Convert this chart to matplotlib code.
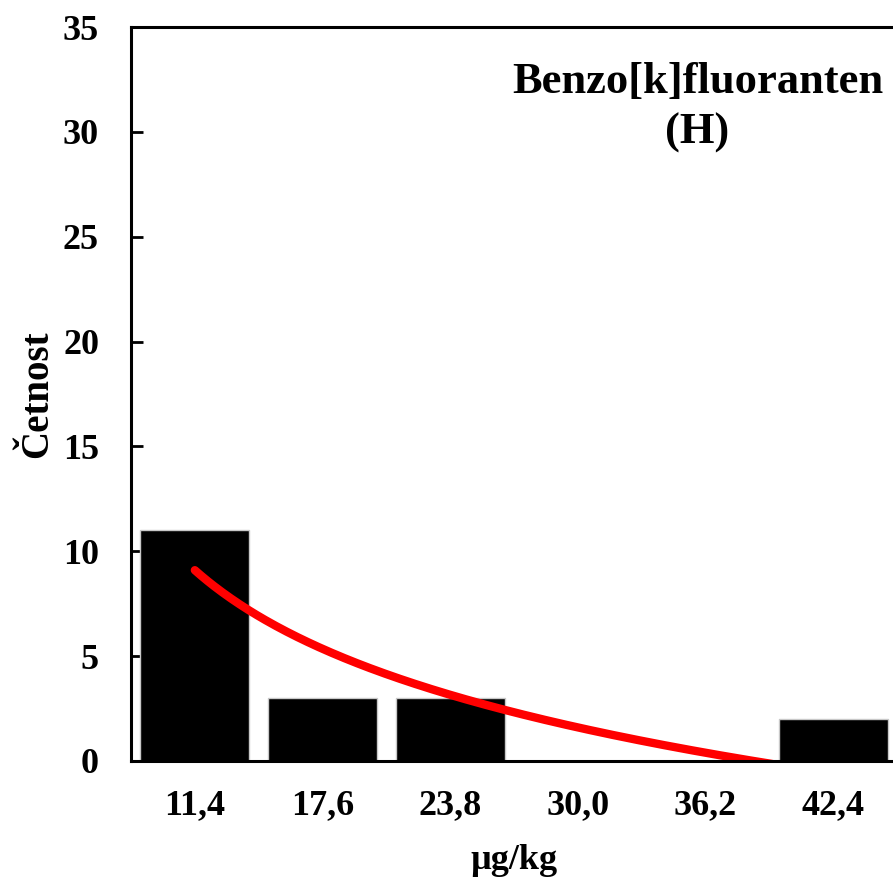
import numpy as np
import matplotlib.pyplot as plt

# histogram classes and counts
classes = ['11,4', '17,6', '23,8', '30,0', '36,2', '42,4']
counts = [11, 3, 3, 0, 0, 2]

plt.rcParams['font.family'] = ['Liberation Serif', 'DejaVu Serif']
plt.rcParams['font.weight'] = 'bold'

fig = plt.figure(figsize=(8.93, 8.83), dpi=100)
ax = fig.add_axes([0.1467, 0.1382, 0.8578, 0.8312])

x = np.arange(1, len(classes) + 1)
ax.bar(x, counts, width=0.856, color='black', edgecolor='#c8c8c8', linewidth=1, zorder=2)

# logarithmic trend line (least squares on ln x)
b, a = np.polyfit(np.log(x), counts, 1)
xs = np.linspace(1, len(classes), 300)
ax.plot(xs, a + b * np.log(xs), color='#ff0000', lw=6, solid_capstyle='round', zorder=3)

ax.set_xlim(0.5, len(classes) + 0.5)
ax.set_ylim(0, 35)
ax.set_yticks(range(0, 36, 5))
ax.set_xticks(x)
ax.set_xticklabels(classes)

ax.tick_params(axis='y', direction='in', length=8.5, width=2, pad=23, labelsize=26)
ax.tick_params(axis='x', length=0, pad=20, labelsize=26)
for lab in ax.get_xticklabels() + ax.get_yticklabels():
    lab.set_fontweight('bold')

for s in ['left', 'top', 'bottom', 'right']:
    ax.spines[s].set_linewidth(2.2)
    ax.spines[s].set_zorder(4)

ax.set_ylabel('Četnost', fontsize=28, fontweight='bold', labelpad=5)
ax.set_xlabel('µg/kg', fontsize=26, fontweight='bold', labelpad=16)

fig.text(0.781, 0.93, 'Benzo[k]fluoranten\n(H)', ha='center', va='top',
         multialignment='center', fontsize=32, fontweight='bold', linespacing=1.35)

fig.savefig('out.png', dpi=100)
